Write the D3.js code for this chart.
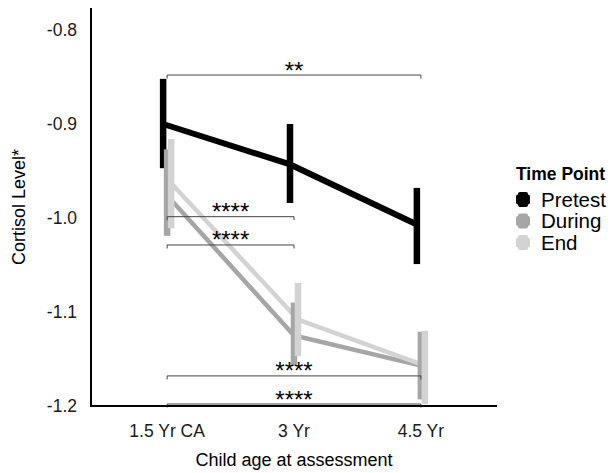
<!DOCTYPE html>
<html>
<head>
<meta charset="utf-8">
<script src="https://cdn.jsdelivr.net/npm/d3@7"></script>
<style>
  body { margin: 0; background: #fff; }
  svg { display: block; font-family: "Liberation Sans", Arial, sans-serif; }
</style>
</head>
<body>
<div id="chart"></div>
<script>
// Chart data
var categories = ["1.5 Yr CA", "3 Yr", "4.5 Yr"];
var groups = ["Pretest", "During", "End"];
var groupColors = ["#000000", "#a6a6a6", "#d3d3d3"];

var pretestMean = [-0.900, -0.943, -1.007];
var pretestLow  = [-0.947, -0.984, -1.049];
var pretestHigh = [-0.852, -0.900, -0.968];

var duringMean = [-0.976, -1.125, -1.157];
var duringLow  = [-1.019, -1.156, -1.193];
var duringHigh = [-0.927, -1.090, -1.121];

var endMean = [-0.963, -1.108, -1.157];
var endLow  = [-1.011, -1.147, -1.198];
var endHigh = [-0.916, -1.069, -1.120];

var yTicks = [-0.8, -0.9, -1.0, -1.1, -1.2];

// significance brackets
var sigFrom  = [0, 0, 0, 0, 0];
var sigTo    = [2, 1, 1, 2, 2];
var sigY     = [-0.8479, -0.9986, -1.0287, -1.1680, -1.1979];
var sigLabel = ["**", "****", "****", "****", "****"];

var series = [
    {name: groups[0], mean: pretestMean, low: pretestLow, high: pretestHigh},
    {name: groups[1], mean: duringMean, low: duringLow, high: duringHigh},
    {name: groups[2], mean: endMean, low: endLow, high: endHigh}
];

/** Layout */
var width = 611, height = 473;
var plot = {left: 91, right: 497, top: 8, bottom: 406};

var svg = d3.select("#chart").append("svg")
    .attr("width", width)
    .attr("height", height);

var x = d3.scalePoint()
    .domain(categories)
    .range([plot.left, plot.right])
    .padding(0.6);

var y = d3.scaleLinear()
    .domain([-1.2, -0.8])
    .range([plot.bottom, 30]);

var colorScale = d3.scaleOrdinal().domain(groups).range(groupColors);
var dodge = d3.scalePoint().domain(groups).range([-4, 4]);

function xPos(g, i) { return x(categories[i]) + dodge(g); }

// lines
var line = d3.line();
series.forEach(function(s){
    svg.append("path")
        .attr("d", line(s.mean.map(function(v, i){ return [xPos(s.name, i), y(v)]; })))
        .attr("fill", "none")
        .attr("stroke", colorScale(s.name))
        .attr("stroke-width", s.name === "Pretest" ? 6 : 4.5);
});

// error bars
series.forEach(function(s){
    svg.selectAll(".eb-" + s.name)
        .data(categories)
        .enter().append("rect")
        .attr("class", "eb-" + s.name)
        .attr("x", function(d, i){ return xPos(s.name, i) - 3.25; })
        .attr("width", 6.5)
        .attr("y", function(d, i){ return y(s.high[i]); })
        .attr("height", function(d, i){ return y(s.low[i]) - y(s.high[i]); })
        .attr("fill", colorScale(s.name));
});

// significance brackets
var tip = 3.5;
sigLabel.forEach(function(lab, k){
    var x1 = x(categories[sigFrom[k]]), x2 = x(categories[sigTo[k]]), yy = y(sigY[k]);
    svg.append("path")
        .attr("d", "M" + x1 + "," + (yy + tip) + "V" + yy + "H" + x2 + "V" + (yy + tip))
        .attr("fill", "none")
        .attr("stroke", "#444")
        .attr("stroke-width", 1);
    svg.append("text")
        .attr("x", (x1 + x2) / 2)
        .attr("y", yy + 3.5)
        .attr("text-anchor", "middle")
        .style("font-size", "24px")
        .attr("fill", "#000")
        .text(lab);
});

// axes
svg.append("line")
    .attr("x1", plot.left).attr("x2", plot.left)
    .attr("y1", plot.top).attr("y2", plot.bottom + 1)
    .attr("stroke", "#000").attr("stroke-width", 2);
svg.append("line")
    .attr("x1", plot.left - 1).attr("x2", plot.right)
    .attr("y1", plot.bottom).attr("y2", plot.bottom)
    .attr("stroke", "#000").attr("stroke-width", 2);

svg.selectAll(".ytick")
    .data(yTicks)
    .enter().append("text")
    .attr("class", "ytick")
    .attr("x", 77)
    .attr("y", function(d){ return y(d); })
    .attr("dy", "0.36em")
    .attr("text-anchor", "end")
    .style("font-size", "17.5px")
    .attr("fill", "#1a1a1a")
    .text(function(d){ return d3.format(".1f")(d).replace("−", "-"); });

svg.selectAll(".xtick")
    .data(categories)
    .enter().append("text")
    .attr("class", "xtick")
    .attr("x", function(d){ return x(d); })
    .attr("y", 437)
    .attr("text-anchor", "middle")
    .style("font-size", "17.5px")
    .attr("fill", "#1a1a1a")
    .text(function(d){ return d; });

// axis titles
svg.append("text")
    .attr("x", (plot.left + plot.right) / 2)
    .attr("y", 466)
    .attr("text-anchor", "middle")
    .style("font-size", "18px")
    .text("Child age at assessment");

svg.append("text")
    .attr("transform", "translate(25," + ((plot.top + plot.bottom) / 2) + ") rotate(-90)")
    .attr("text-anchor", "middle")
    .style("font-size", "18px")
    .text("Cortisol Level*");

// legend
var leg = svg.append("g").attr("transform", "translate(516,0)");
leg.append("text")
    .attr("x", 0).attr("y", 180)
    .style("font-size", "17.5px")
    .style("font-weight", "bold")
    .text("Time Point");

var legItem = leg.selectAll(".legend")
    .data(groups)
    .enter().append("g")
    .attr("class", "legend")
    .attr("transform", function(d, i){ return "translate(0," + (199.5 + i * 21.5) + ")"; });

legItem.append("rect")
    .attr("x", 2).attr("y", -7.5)
    .attr("width", 10).attr("height", 15)
    .attr("rx", 2)
    .attr("fill", colorScale);
legItem.append("rect")
    .attr("x", 0).attr("y", -5)
    .attr("width", 14).attr("height", 10)
    .attr("rx", 2)
    .attr("fill", colorScale);

legItem.append("text")
    .attr("x", 25)
    .attr("y", 7)
    .style("font-size", "20.5px")
    .text(function(d){ return d; });
</script>
</body>
</html>
